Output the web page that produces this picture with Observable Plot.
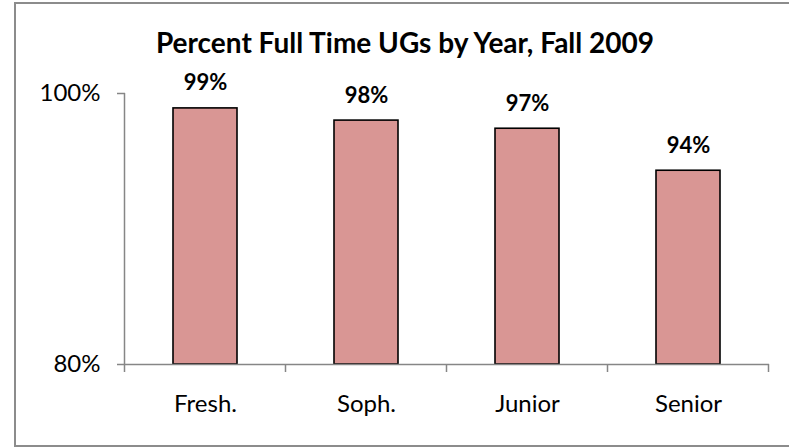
<!DOCTYPE html>
<html>
<head>
<meta charset="utf-8">
<script src="https://cdn.jsdelivr.net/npm/d3@7"></script>
<script src="https://cdn.jsdelivr.net/npm/@observablehq/plot@0.6"></script>
<style>
  html, body { margin: 0; padding: 0; background: #fff; }
  body { position: relative; width: 789px; height: 448px; overflow: hidden; font-family: Lato, "Open Sans", sans-serif; }
  #frame { position: absolute; left: 14px; top: 2px; width: 800px; height: 445px; box-sizing: border-box; border: 2px solid #8c8c8c; z-index: 2; pointer-events: none; }
  #title { position: absolute; left: 0; top: 22px; width: 810px; text-align: center; font-weight: bold; font-size: 28px; color: #000; line-height: 40px; z-index: 1; }
  #chart { position: absolute; left: 0; top: 52px; }
  #chart svg { background: transparent !important; }
</style>
</head>
<body>
<div id="frame"></div>
<div id="title">Percent Full Time UGs by Year, Fall 2009</div>
<div id="chart"></div>
<script>
const years = ["Fresh.", "Soph.", "Junior", "Senior"];
const values = [98.9, 98.0, 97.4, 94.3];
const labels = ["99%", "98%", "97%", "94%"];
const yTicks = [80, 100];
const baseline = 80;

const data = years.map((year, i) => ({year, value: values[i], label: labels[i]}));

const W = 789, H = 396;
const axisColor = "#868686";
const fontSize = 24;

const plot = Plot.plot({
  width: W,
  height: H,
  marginLeft: 125,
  marginRight: 20,
  marginTop: 41,
  marginBottom: 84,
  style: {fontFamily: "Lato, 'Open Sans', sans-serif", fontSize: fontSize + "px", color: "#000", background: "transparent"},
  x: {domain: years, paddingInner: 0.6, paddingOuter: 0.3},
  y: {domain: [80, 100]},
  marks: [
    Plot.barY(data, {x: "year", y1: () => baseline, y2: "value", fill: "#d99694", stroke: "#000", strokeWidth: 1.6}),
    Plot.text(data, {x: "year", y: "value", text: "label", dy: -25, fontWeight: "bold", fontSize: 22, fill: "#000"}),
    Plot.ruleY([baseline], {stroke: axisColor, strokeWidth: 1.5}),
    Plot.axisY({ticks: yTicks, tickFormat: d => d + "%", tickSize: 8, tickPadding: 17, stroke: axisColor, strokeWidth: 1.5, fontSize: fontSize, label: null, color: "#000"}),
    Plot.axisX({tickSize: 0, tickPadding: 30, fontSize: fontSize, label: null})
  ]
});

const svg = d3.select(plot);
const xs = plot.scale("x");
const ys = plot.scale("y");
const bounds = years.map(d => xs.apply(d) + xs.bandwidth / 2 - xs.step / 2);
bounds.push(xs.apply(years[years.length - 1]) + xs.bandwidth / 2 + xs.step / 2);
const y0 = ys.apply(baseline);
const yTop = ys.apply(100);
const g = svg.append("g").attr("stroke", axisColor).attr("stroke-width", 1.5);
g.append("line").attr("x1", bounds[0]).attr("x2", bounds[0]).attr("y1", yTop).attr("y2", y0);
g.selectAll("line.tick").data(bounds).join("line").attr("class", "tick")
  .attr("x1", d => d).attr("x2", d => d).attr("y1", y0).attr("y2", y0 + 8);

document.getElementById("chart").appendChild(plot);
</script>
</body>
</html>
